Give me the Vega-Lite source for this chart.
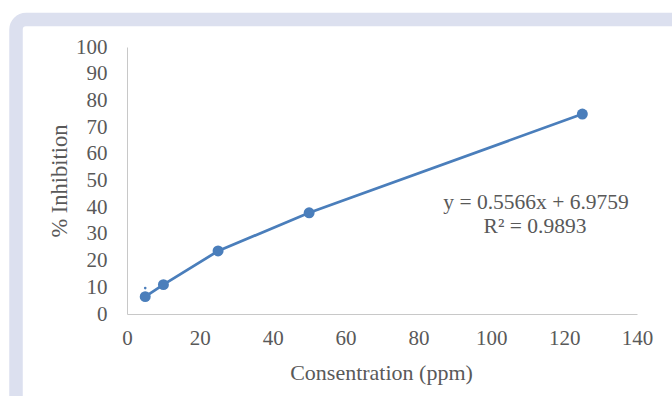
{
  "$schema": "https://vega.github.io/schema/vega-lite/v6.json",
  "autosize": {"type": "none"},
  "width": 676,
  "height": 396,
  "padding": {"left": 16, "top": 19.5, "right": -20, "bottom": -19.5},
  "background": "white",
  "config": {
    "view": {"fill": "white", "stroke": "#dce0ef", "strokeWidth": 13.5, "cornerRadius": 10},
    "font": "Liberation Serif",
    "axis": {"labelOverlap": false, "labelSeparation": -20}
  },
  "datasets": {
    "points": [
      {"conc": 5, "inhibition": 6.5},
      {"conc": 10, "inhibition": 11},
      {"conc": 25, "inhibition": 23.6},
      {"conc": 50, "inhibition": 37.9},
      {"conc": 125, "inhibition": 74.9}
    ],
    "marker": [
      {"conc": 5, "inhibition": 9.7}
    ],
    "notes": [
      {"conc": 112.3, "inhibition": 39.2, "text": "y = 0.5566x + 6.9759"},
      {"conc": 112.0, "inhibition": 30.2, "text": "R² = 0.9893"}
    ]
  },
  "encoding": {
    "x": {
      "field": "conc",
      "type": "quantitative",
      "scale": {"domain": [0, 140], "range": [111, 621], "nice": false, "zero": false},
      "axis": {
        "values": [0, 20, 40, 60, 80, 100, 120, 140],
        "tickCount": 8,
        "offset": -101.5,
        "grid": false,
        "ticks": false,
        "domainColor": "#c8c8c8",
        "domainWidth": 1,
        "labelFont": "Liberation Serif",
        "labelFontSize": 21,
        "labelColor": "#595959",
        "labelPadding": 13,
        "labelFlush": false,
        "labelOverlap": false,
        "labelSeparation": -20,
        "title": "Consentration (ppm)",
        "titleFont": "Liberation Serif",
        "titleFontSize": 22,
        "titleFontWeight": "normal",
        "titleColor": "#595959",
        "titleX": 365,
        "titleY": 65,
        "titleBaseline": "alphabetic"
      }
    },
    "y": {
      "field": "inhibition",
      "type": "quantitative",
      "scale": {"domain": [0, 100], "range": [294.5, 27.5], "nice": false, "zero": false},
      "axis": {
        "values": [0, 10, 20, 30, 40, 50, 60, 70, 80, 90, 100],
        "tickCount": 11,
        "offset": -111,
        "grid": false,
        "ticks": false,
        "domainColor": "#c8c8c8",
        "domainWidth": 1,
        "labelFont": "Liberation Serif",
        "labelFontSize": 21,
        "labelColor": "#595959",
        "labelPadding": 20,
        "labelFlush": false,
        "labelOverlap": false,
        "labelSeparation": -20,
        "title": "% Inhibition",
        "titleFont": "Liberation Serif",
        "titleFontSize": 22.5,
        "titleFontWeight": "normal",
        "titleColor": "#595959",
        "titleAngle": 270,
        "titleX": -60.5,
        "titleY": 161,
        "titleBaseline": "alphabetic"
      }
    }
  },
  "layer": [
    {
      "data": {"name": "points"},
      "mark": {
        "type": "line",
        "color": "#4a7ebb",
        "strokeWidth": 2.75,
        "point": {"filled": true, "size": 120, "color": "#4a7ebb", "opacity": 1}
      }
    },
    {
      "data": {"name": "marker"},
      "mark": {"type": "point", "filled": true, "size": 7, "color": "#4a7ebb", "opacity": 1}
    },
    {
      "data": {"name": "notes"},
      "mark": {"type": "text", "font": "Liberation Serif", "fontSize": 21.5, "color": "#595959", "align": "center", "baseline": "alphabetic"},
      "encoding": {
        "text": {"field": "text"}
      }
    }
  ]
}
